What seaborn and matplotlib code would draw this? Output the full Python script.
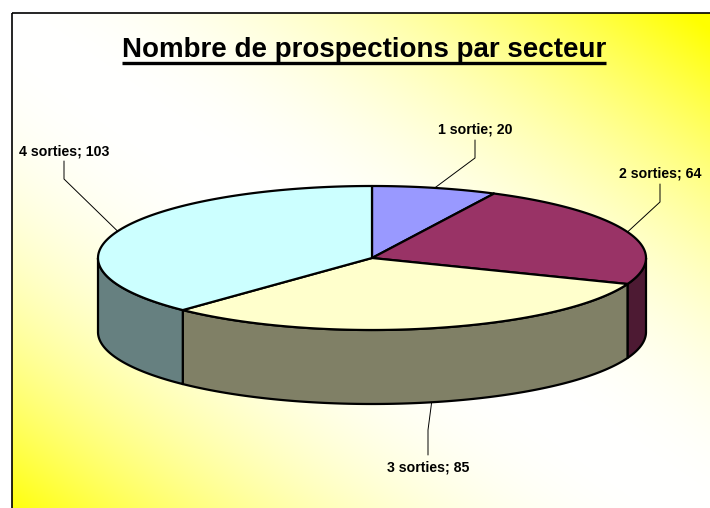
import numpy as np
import matplotlib
matplotlib.use("Agg")
import matplotlib.pyplot as plt
from matplotlib.colors import to_rgb
from matplotlib.patches import Polygon, Rectangle
import seaborn as sns

sns.set_style("white")
plt.rcParams["font.family"] = ["Liberation Sans", "DejaVu Sans"]

TITLE = "Nombre de prospections par secteur"
categories = ["1 sortie", "2 sorties", "3 sorties", "4 sorties"]
counts = [20, 64, 85, 103]
top_colors = ["#9999FF", "#993366", "#FFFFCC", "#CCFFFF"]

# layout, in pixels of the 710x508 canvas
W, H = 710, 508
CX, CY = 372, 258
RX, RY = 274, 72
DEPTH = 74
LABEL_POS = [(475, 130), (660, 174), (428, 467), (64, 151)]


def ellipse(theta, drop=0.0):
    # theta in degrees, clockwise from 12 o'clock
    t = np.radians(theta)
    return CX + RX * np.sin(t), CY - RY * np.cos(t) + drop


def main():
    palette = sns.color_palette(top_colors)
    side_colors = [tuple(np.array(to_rgb(c)) * 0.5) for c in palette]

    fig = plt.figure(figsize=(W / 100, H / 100), dpi=100)
    ax = fig.add_axes([0, 0, 1, 1])
    ax.set_xlim(0, W)
    ax.set_ylim(H, 0)
    ax.axis("off")

    # diagonal white/yellow gradient inside the chart frame
    x0, y0 = 12, 13
    u, v = np.meshgrid(np.linspace(0, 1, 400), np.linspace(0, 1, 300))
    t = np.clip(np.abs(u - v + 0.03), 0, 1) ** 2.0
    img = np.dstack([np.ones_like(t), np.ones_like(t), 1 - t])
    ax.imshow(img, extent=(x0, W, H, y0), aspect="auto", zorder=0,
              interpolation="bilinear")
    ax.add_patch(Rectangle((x0, y0), W - x0 + 5, H - y0 + 5, fill=False,
                           ec="black", lw=1.2, zorder=1))

    bounds = np.cumsum([0] + counts) / sum(counts) * 360

    # cylinder sides (front half only)
    for i, (a0, a1) in enumerate(zip(bounds[:-1], bounds[1:])):
        s0, s1 = max(a0, 90), min(a1, 270)
        if s0 >= s1:
            continue
        th = np.linspace(s0, s1, 120)
        x, y = ellipse(th)
        poly = np.column_stack([np.r_[x, x[::-1]], np.r_[y, y[::-1] + DEPTH]])
        ax.add_patch(Polygon(poly, fc=side_colors[i], ec="black", lw=1.6,
                             joinstyle="round", zorder=2))

    # top wedges
    for i, (a0, a1) in enumerate(zip(bounds[:-1], bounds[1:])):
        th = np.linspace(a0, a1, 200)
        x, y = ellipse(th)
        poly = np.column_stack([np.r_[CX, x], np.r_[CY, y]])
        ax.add_patch(Polygon(poly, fc=palette[i], ec="black", lw=1.6,
                             joinstyle="round", zorder=3))

    # labels with elbow leader lines
    for i, (a0, a1) in enumerate(zip(bounds[:-1], bounds[1:])):
        mid = (a0 + a1) / 2
        front = np.cos(np.radians(mid)) < -0.9
        ax_, ay_ = ellipse(mid, DEPTH if front else 0)
        lx, ly = LABEL_POS[i]
        if ly < ay_:
            end_y, elbow_y = ly + 10, ly + 28
        else:
            end_y, elbow_y = ly - 12, ly - 37
        ax.plot([ax_, lx, lx], [ay_, elbow_y, end_y], color="black", lw=0.7,
                zorder=4)
        ax.text(lx, ly, f"{categories[i]}; {counts[i]}", ha="center",
                va="center", fontsize=10.2, fontweight="bold", color="black",
                zorder=5)

    title = ax.text(364, 57, TITLE, ha="center", va="baseline", fontsize=20,
                    fontweight="bold", color="black", zorder=5)
    fig.canvas.draw()
    bb = title.get_window_extent().transformed(ax.transData.inverted())
    ax.plot([bb.x0, bb.x1], [63, 63], color="black", lw=2.4,
            solid_capstyle="butt", zorder=5)

    fig.savefig("out.png", dpi=100)
    plt.close(fig)


if __name__ == "__main__":
    main()
